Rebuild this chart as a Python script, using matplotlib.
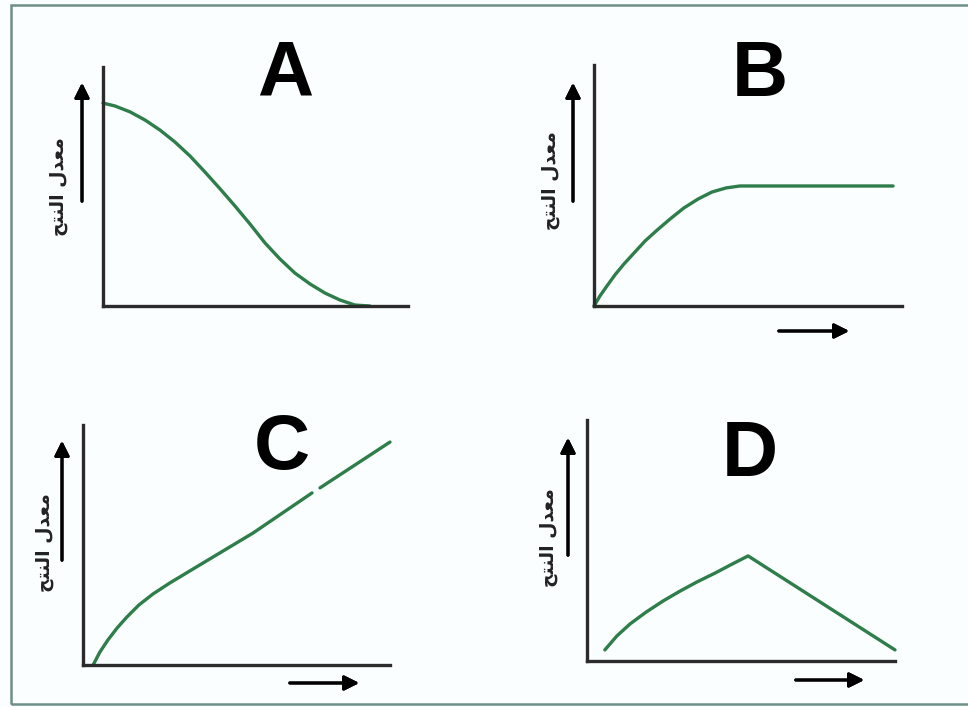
import numpy as np
import matplotlib
matplotlib.use("Agg")
import matplotlib.pyplot as plt
from matplotlib.patches import Rectangle

W, H = 968, 707

# curve data for each panel, in percent of the axis (x: 0-100, y: 0-100)
a_x = [0, 3.9, 8.9, 13.8, 18.7, 23.6, 28.5, 33.4, 38.4, 43.3, 48.2, 53.1, 58.0, 62.9, 67.9, 72.8, 77.7, 82.6, 87.5]
a_y = [84.9, 83.7, 81.2, 77.8, 73.6, 68.6, 62.8, 56.1, 49.0, 41.8, 34.3, 26.4, 19.7, 13.8, 9.2, 5.4, 2.5, 0.4, 0.0]

b_x = [0, 1.9, 4.2, 6.8, 9.7, 13.0, 16.6, 20.5, 24.7, 29.2, 33.8, 38.3, 42.9, 47.4, 97.1]
b_y = [0, 4.1, 8.3, 12.9, 17.4, 22.0, 27.0, 31.5, 36.1, 40.7, 44.4, 47.3, 49.0, 49.8, 49.8]

c_x = [3.3, 5.5, 8.1, 11.1, 14.3, 18.2, 22.8, 28.3, 39.1, 55.4, 74.6, np.nan, 77.2, 100]
c_y = [0.0, 5.4, 10.4, 15.4, 20.0, 25.0, 29.6, 34.2, 42.5, 55.0, 71.7, np.nan, 73.8, 92.9]

d_x = [5.8, 9.7, 14.0, 19.2, 24.7, 30.2, 35.7, 41.6, 47.1, 52.3, 100]
d_y = [4.6, 10.4, 15.4, 20.3, 24.9, 29.0, 32.8, 36.5, 40.2, 43.6, 4.6]

letters = ["A", "B", "C", "D"]
# "معدل النتح" written with presentation forms in visual order
y_label = "\uFEA2\uFE98\uFEE8\uFEDF\uFE8D \uFEDD\uFEAA\uFECC\uFEE3"

green = "#2e7d4a"
dark = "#2b2b2b"


def fx(px):
    return px / W


def fy(py):
    return (H - py) / H


fig = plt.figure(figsize=(W / 100, H / 100), dpi=100)
fig.patch.set_facecolor("#fafefe")

# outer frame
fig.add_artist(Rectangle((fx(11), fy(704)), fx(975) - fx(11), fy(5) - fy(704),
                         transform=fig.transFigure, fill=False,
                         edgecolor="#6f8f86", linewidth=1.8))

# panel geometry in pixels: axis left, bottom, right, top
panels = [
    dict(box=(103, 306, 408, 67), xs=a_x, ys=a_y, up=(82, 204, 80), right=None,
         lab=(58, 187), let=(285, 75)),
    dict(box=(594, 306, 902, 65), xs=b_x, ys=b_y, up=(573, 204, 80), right=(776, 852, 331),
         lab=(551, 181), let=(760, 75)),
    dict(box=(83, 665, 390, 425), xs=c_x, ys=c_y, up=(62, 563, 438), right=(287, 362, 683),
         lab=(45, 543), let=(282, 448)),
    dict(box=(587, 661, 895, 420), xs=d_x, ys=d_y, up=(568, 558, 435), right=(793, 867, 680),
         lab=(548, 538), let=(750, 456)),
]

for p, letter in zip(panels, letters):
    l, b, r, t = p["box"]
    ax = fig.add_axes([fx(l), fy(b), fx(r) - fx(l), fy(t) - fy(b)])
    ax.set_facecolor("none")
    ax.set_xlim(0, 100)
    ax.set_ylim(0, 100)
    for s in ["top", "right"]:
        ax.spines[s].set_visible(False)
    for s in ["left", "bottom"]:
        ax.spines[s].set_color(dark)
        ax.spines[s].set_linewidth(2.4)
    ax.set_xticks([])
    ax.set_yticks([])
    ax.plot(p["xs"], p["ys"], color=green, linewidth=2.4, clip_on=False,
            solid_capstyle="round", solid_joinstyle="round")

    # up arrow beside the y axis
    ux, uy0, uy1 = p["up"]
    fig.add_artist(plt.annotate("", xy=(fx(ux), fy(uy1)), xytext=(fx(ux), fy(uy0)),
                                xycoords="figure fraction",
                                arrowprops=dict(arrowstyle="-|>", color="black",
                                                lw=2.2, mutation_scale=22)))
    # right arrow under the x axis
    if p["right"] is not None:
        rx0, rx1, ry = p["right"]
        fig.add_artist(plt.annotate("", xy=(fx(rx1), fy(ry)), xytext=(fx(rx0), fy(ry)),
                                    xycoords="figure fraction",
                                    arrowprops=dict(arrowstyle="-|>", color="black",
                                                    lw=2.2, mutation_scale=22)))

    tx, ty = p["lab"]
    fig.text(fx(tx), fy(ty), y_label, rotation=90, ha="center", va="center",
             fontsize=13.5, fontweight="bold", family=["DejaVu Sans"], color="#222222")

    lx, ly = p["let"]
    fig.text(fx(lx), fy(ly), letter, ha="center", va="center", fontsize=56,
             fontweight="bold", family=["Liberation Sans", "DejaVu Sans"], color="black")

fig.savefig("out.png", dpi=100, facecolor=fig.get_facecolor())
